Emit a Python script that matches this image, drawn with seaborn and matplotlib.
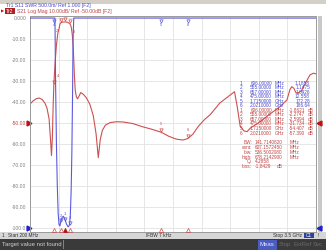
import numpy as np
import pandas as pd
import matplotlib
matplotlib.use("Agg")
import matplotlib.pyplot as plt
import seaborn as sns
from matplotlib.patches import Rectangle

# ---------------- data ----------------
freq_s21 = [200, 235, 270, 305, 340, 372, 396, 420, 437, 448, 458, 467, 475, 490, 505,
            520, 536, 545, 555, 575, 606, 630, 657, 670, 678, 688, 697, 705, 713, 722,
            735, 748, 762, 785, 815, 850, 890, 930, 962, 988, 1010, 1035, 1070, 1125, 1200,
            1270, 1390, 1500, 1590, 1715, 1800, 1890, 1965, 2021, 2080, 2140, 2210, 2280, 2390, 2500,
            2560, 2590, 2625, 2670, 2705, 2740, 2855, 2970, 3085, 3165, 3200, 3220, 3245, 3270, 3300,
            3330, 3385, 3430, 3470, 3500]
s21_db = [-41.0, -39.5, -38.5, -38.1, -38.8, -40.5, -42.9, -48.0, -58.0, -65.5, -57.0, -42.0, -31.7, -21.0, -13.0,
          -7.5, -4.84, -3.0, -2.27, -1.95, -1.86, -2.0, -2.6, -3.5, -4.84, -8.0, -13.0, -20.0, -28.0, -34.5,
          -37.5, -38.5, -37.5, -35.5, -36.3, -38.0, -41.0, -46.5, -55.0, -66.5, -58.0, -53.5, -51.0, -49.8, -49.4,
          -49.5, -50.3, -51.8, -52.8, -54.4, -56.3, -57.7, -58.1, -57.4, -55.3, -51.7, -48.5, -46.0, -40.5, -37.0,
          -35.1, -42.0, -51.5, -53.8, -54.1, -52.5, -49.4, -45.7, -42.2, -39.0, -34.0, -32.7, -33.5, -35.7, -35.5,
          -34.8, -30.5, -27.1, -26.3, -26.6]

freq_swr = [200, 475, 488, 495, 505, 515, 525, 535, 545, 555, 570, 585, 600, 606, 620,
            635, 645, 657, 665, 675, 683, 690, 697, 705, 1715, 2021, 3500]
swr = [150, 12.558, 6.2, 4.5, 3.0, 2.0, 1.35, 1.08, 1.05, 1.1475, 1.25, 1.28, 1.22, 1.1858, 1.1,
       1.04, 1.03, 1.0926, 1.3, 1.9, 2.8, 4.0, 5.5, 8.0, 172.28, 186.64, 190]

marker_ids = ["1", "2", "3", "4", "5", "6"]
marker_freq = [606, 555, 657, 475, 1715, 2021]
marker_freq_text = ["606.00000", "555.00000", "657.00000", "475.00000", "1.7150000", "2.0210000"]
marker_unit = ["MHz", "MHz", "MHz", "MHz", "GHz", "GHz"]
marker_swr = [1.1858, 1.1475, 1.0926, 12.558, 172.28, 186.64]
marker_swr_text = ["1.1858", "1.1475", "1.0926", "12.558", "172.28", "186.64"]
marker_s21 = [-1.8621, -2.2747, -2.5994, -31.734, -54.407, -57.390]
marker_s21_text = ["-1.8621", "-2.2747", "-2.5994", "-31.734", "-54.407", "-57.390"]

bw_labels = ["BW:", "cent:", "low:", "high:", "Q:", "loss:"]
bw_values = ["141.7140820", "607.1572450", "536.5002080", "678.2142900", "4.2858", "-1.8429"]
bw_units = ["MHz", "MHz", "MHz", "MHz", "", "dB"]

y_ticks = [0, -10, -20, -30, -40, -50, -60, -70, -80, -90, -100]
y_tick_labels = ["0.000", "-10.00", "-20.00", "-30.00", "-40.00", "-50.00",
                 "-60.00", "-70.00", "-80.00", "-90.00", "-100.0"]
x_ticks = [200, 530, 860, 1190, 1520, 1850, 2180, 2510, 2840, 3170, 3500]

# ---------------- style ----------------
sns.set_theme(style="white")
plt.rcParams['font.family'] = ['Liberation Sans', 'DejaVu Sans']

RED = "#cc5050"
BLUE = "#5a5ae0"
RED_T = "#c04444"
BLUE_T = "#4a4ad0"
GRID = "#e2e2e2"

W, H = 326, 250
fig = plt.figure(figsize=(W / 100, H / 100), dpi=100)
fig.patch.set_facecolor("white")


def fx(x):
    return x / W


def fy(y):
    return 1 - y / H


def ftext(x, y, s, **kw):
    kw.setdefault("va", "center")
    kw.setdefault("fontsize", 3.4)
    fig.text(fx(x), fy(y), s, **kw)


# window decorations
fig.add_artist(Rectangle((0, fy(3.5)), 1, 3.5 / H, transform=fig.transFigure,
                         facecolor="#d4d0c8", edgecolor="none", zorder=0))
fig.add_artist(Rectangle((fx(317.5), fy(232)), 4 / W, 216 / H, transform=fig.transFigure,
                         facecolor="#c8c8c8", edgecolor="none", zorder=0))
fig.add_artist(Rectangle((0, fy(238.5)), 1, 6.5 / H, transform=fig.transFigure,
                         facecolor="#d6d6d6", edgecolor="none", zorder=0))
fig.add_artist(Rectangle((0, 0), 1, 11.5 / H, transform=fig.transFigure,
                         facecolor="#3a3a3a", edgecolor="none", zorder=0))

# ---------------- axes ----------------
ax = fig.add_axes([fx(30), fy(232), 286 / W, 216 / H])
ax.set_facecolor("white")
ax.set_xlim(200, 3500)
ax.set_ylim(-101.9, 0.95)
ax.set_xticks(x_ticks)
ax.set_yticks(y_ticks)
ax.set_xticklabels([])
ax.set_yticklabels(y_tick_labels)
ax.tick_params(axis="both", length=0)
ax.tick_params(axis="y", labelsize=3.6, pad=2.6, labelcolor="#808080")
for lab in ax.get_yticklabels():
    if lab.get_text() == "-50.00":
        lab.set_color(RED_T)
ax.grid(True, color=GRID, lw=0.6)
for s in ax.spines.values():
    s.set_color("#9a9a9a")
    s.set_linewidth(0.7)

ax2 = ax.twinx()
ax2.set_ylim(0.905, 6.048)
ax2.set_yticks([])
for s in ax2.spines.values():
    s.set_visible(False)

df21 = pd.DataFrame({"freq": freq_s21, "db": s21_db})
dfswr = pd.DataFrame({"freq": freq_swr, "swr": np.minimum(np.array(swr), 6.0)})

sns.lineplot(data=df21, x="freq", y="db", ax=ax, color=RED, lw=0.8, estimator=None, sort=True)
sns.lineplot(data=dfswr, x="freq", y="swr", ax=ax2, color=BLUE, lw=0.8, estimator=None, sort=True)
for a in (ax, ax2):
    a.set_xlabel("")
    a.set_ylabel("")

# markers on traces
label_dx = {"1": 0, "2": -45, "3": 45, "4": 45, "5": 0, "6": 0}
for mid, f, db, sv in zip(marker_ids, marker_freq, marker_s21, marker_swr):
    ax.plot([f], [db + 1.2], marker="v", ms=2.4, mfc="none", mec=RED, mew=0.5, zorder=5)
    if db > -10:
        if mid != "1":
            ax.text(f + label_dx[mid], db - 3.0, mid, color=RED_T, fontsize=2.8, ha="center", va="top")
    else:
        ax.text(f + label_dx[mid], db + 3.2, mid, color=RED_T, fontsize=2.8, ha="center", va="bottom")
    svd = min(sv, 6.0)
    ax2.plot([f], [svd - 0.06 if sv > 6 else svd + 0.035], marker="v", ms=2.4, mfc="none",
             mec=BLUE, mew=0.5, zorder=5)
    if sv > 6:
        ax2.text(f, svd - 0.12, mid, color=BLUE_T, fontsize=2.8, ha="center", va="top")
    else:
        ax2.text(f, svd + 0.09, mid, color=BLUE_T, fontsize=2.8, ha="center", va="bottom")

# stimulus marker triangles at bottom
xt = ax.get_xaxis_transform()
for mid, f in zip(marker_ids, marker_freq):
    active = mid == "1"
    ax.plot([f], [0.008], marker="^", ms=3.0, transform=xt, clip_on=False,
            mfc="#b01010" if active else "none", mec="#b01010" if active else RED, mew=0.5, zorder=6)

# reference level triangles
yt = ax.get_yaxis_transform()
ax.plot([-0.004], [-50], marker=">", ms=3.5, color="#c01010", transform=yt, clip_on=False)
ax.plot([-0.004], [-100], marker=">", ms=3.5, color="#2020d0", transform=yt, clip_on=False)
ax.plot([1.011], [-50], marker="<", ms=3.5, color="#c01010", transform=yt, clip_on=False)
ax.plot([1.011], [-100], marker="<", ms=3.5, color="#2020d0", transform=yt, clip_on=False)

# ---------------- header ----------------
ftext(6, 5.8, "Tr1 S11 SWR 500.0m/ Ref 1.000 [F2]", color=BLUE_T, fontsize=3.7)
fig.add_artist(Rectangle((fx(5), fy(14)), 10 / W, 5.5 / H, transform=fig.transFigure,
                         facecolor="#b02020", edgecolor="none"))
ftext(2.5, 11.2, "\u25b6", color="#c01010", fontsize=3.0, ha="center", family=["DejaVu Sans"])
ftext(6, 11.2, "Tr2", color="white", fontsize=3.7)
ftext(17, 11.2, "S21 Log Mag 10.00dB/ Ref -50.00dB [F2]", color=RED_T, fontsize=3.7)

# ---------------- marker table ----------------
for i in range(6):
    y = 83 + 4.55 * i
    ftext(241, y, marker_ids[i], color=BLUE_T, ha="center")
    ftext(272, y, marker_freq_text[i], color=BLUE_T, ha="right")
    ftext(275, y, marker_unit[i], color=BLUE_T, ha="left")
    ftext(310, y, marker_swr_text[i], color=BLUE_T, ha="right")
for i in range(6):
    y = 83 + 4.55 * (6 + i)
    ftext(241, y, marker_ids[i], color=RED_T, ha="center")
    ftext(272, y, marker_freq_text[i], color=RED_T, ha="right")
    ftext(275, y, marker_unit[i], color=RED_T, ha="left")
    ftext(305, y, marker_s21_text[i], color=RED_T, ha="right")
    ftext(308, y, "dB", color=RED_T, ha="left")

for i in range(6):
    y = 143 + 4.7 * i
    ftext(252, y, bw_labels[i], color=RED_T, ha="right")
    ftext(255, y, bw_values[i], color=RED_T, ha="left")
    ftext(290 if i < 4 else 277, y, bw_units[i], color=RED_T, ha="left")

# ---------------- status bars ----------------
ftext(2, 235.2, "1", color="#303030", fontsize=3.4)
ftext(8, 235.2, "Start 200 MHz", color="#303030", fontsize=3.4)
ftext(146, 235.2, "IFBW 7 kHz", color="#303030", fontsize=3.4)
ftext(302, 235.2, "Stop 3.5 GHz", color="#303030", fontsize=3.4, ha="right")
fig.add_artist(Rectangle((fx(304), fy(238)), 10 / W, 5.5 / H, transform=fig.transFigure,
                         facecolor="#3040a0", edgecolor="none"))
ftext(306, 235.2, "C1", color="white", fontsize=3.4)
ftext(318, 235.2, "!", color="#303030", fontsize=3.4)

ftext(2, 244.5, "Target value not found", color="#d0d0d0", fontsize=4.3)
fig.add_artist(Rectangle((fx(63), fy(249)), 0.8 / W, 9 / H, transform=fig.transFigure,
                         facecolor="#808080", edgecolor="none"))
fig.add_artist(Rectangle((fx(258), fy(249.5)), 19 / W, 10 / H, transform=fig.transFigure,
                         facecolor="#4a5cc0", edgecolor="none"))
ftext(260, 244.5, "Meas", color="#e8e8ff", fontsize=4.3)
ftext(279, 244.5, "Stop", color="#6a6a6a", fontsize=4.3)
ftext(293, 244.5, "ExtRef", color="#6a6a6a", fontsize=4.3)
ftext(313, 244.5, "Svc", color="#6a6a6a", fontsize=4.3)

fig.savefig("out.png", dpi=100)
